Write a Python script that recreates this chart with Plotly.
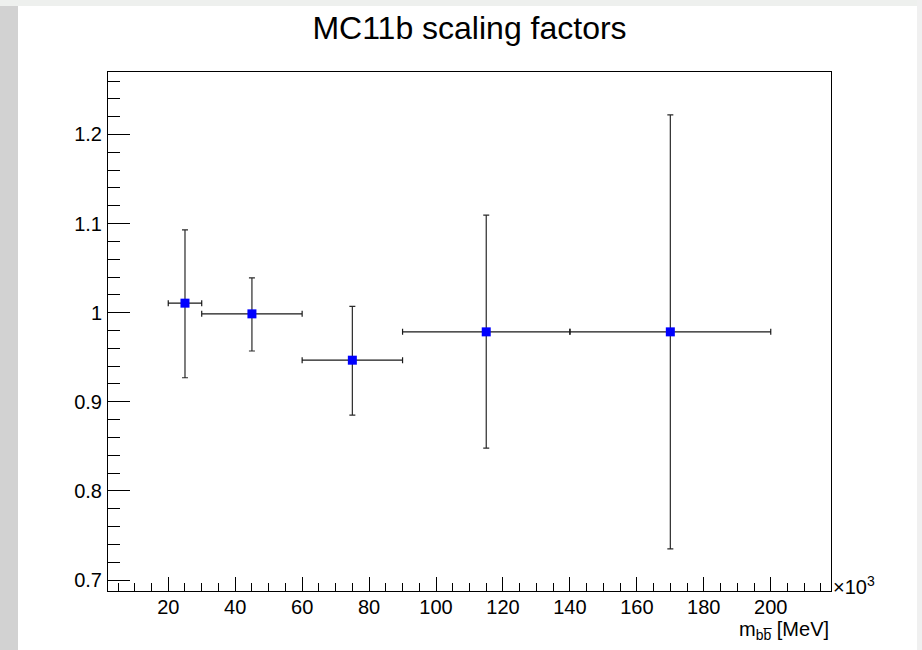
import plotly.graph_objects as go

# Data (x in units of 10^3 MeV)
bin_low = [20, 30, 60, 90, 140]
bin_high = [30, 60, 90, 140, 200]
x_center = [25, 45, 75, 115, 170]
scale = [1.0107, 0.9987, 0.9467, 0.9785, 0.9785]
scale_up = [1.093, 1.039, 1.007, 1.1095, 1.222]
scale_down = [0.927, 0.957, 0.885, 0.848, 0.735]

ex_minus = [c - lo for c, lo in zip(x_center, bin_low)]
ex_plus = [hi - c for c, hi in zip(x_center, bin_high)]
ey_plus = [u - v for u, v in zip(scale_up, scale)]
ey_minus = [v - d for v, d in zip(scale, scale_down)]

FONT = "Liberation Sans, Arial, Helvetica, sans-serif"

fig = go.Figure()
fig.add_trace(go.Scatter(
    x=x_center, y=scale, mode="markers",
    marker=dict(symbol="square", size=9, color="#0000ff", line=dict(width=0)),
    error_x=dict(type="data", symmetric=False, array=ex_plus, arrayminus=ex_minus,
                 color="#1a1a1a", thickness=1.2, width=3),
    error_y=dict(type="data", symmetric=False, array=ey_plus, arrayminus=ey_minus,
                 color="#2a2a2a", thickness=1.2, width=3),
    showlegend=False,
))

W, H = 922, 650
ML, MR, MT, MB = 108, 91, 72, 59
PW, PH = W - ML - MR, H - MT - MB

def px_x(p):
    return (p - ML) / PW

def px_y(p):
    return 1 - (p - MT) / PH

shapes = [
    dict(type="rect", xref="paper", yref="paper", x0=px_x(0), x1=px_x(18), y0=px_y(650), y1=px_y(0),
         fillcolor="#d2d2d2", line=dict(width=0), layer="below"),
    dict(type="rect", xref="paper", yref="paper", x0=px_x(0), x1=px_x(922), y0=px_y(6), y1=px_y(0),
         fillcolor="#eef0ee", line=dict(width=0), layer="below"),
    dict(type="rect", xref="paper", yref="paper", x0=px_x(917), x1=px_x(922), y0=px_y(650), y1=px_y(0),
         fillcolor="#f0f0f0", line=dict(width=0), layer="below"),
]

fig.update_layout(
    width=W, height=H, autosize=False,
    margin=dict(l=ML, r=MR, t=MT, b=MB, pad=0),
    paper_bgcolor="white", plot_bgcolor="white",
    font=dict(family=FONT, color="black", size=20),
    title=dict(text="MC11b scaling factors", x=0.5, xref="paper", xanchor="center",
               y=1 - 28 / H, yref="container", yanchor="middle",
               font=dict(family=FONT, size=32, color="black")),
    shapes=shapes,
    xaxis=dict(range=[2, 218], showline=True, linecolor="black", linewidth=1, mirror=True,
               ticks="inside", ticklen=14, tickwidth=1, tickcolor="black",
               tick0=0, dtick=20, showgrid=False, zeroline=False,
               tickfont=dict(family=FONT, size=20, color="black"),
               ticklabelstandoff=-2,
               minor=dict(ticks="inside", ticklen=8, tickwidth=1, tickcolor="black",
                          tick0=0, dtick=5, showgrid=False)),
    yaxis=dict(range=[0.6877, 1.2701], showline=True, linecolor="black", linewidth=1, mirror=True,
               ticks="inside", ticklen=22, tickwidth=1, tickcolor="black",
               tick0=0.7, dtick=0.1, showgrid=False, zeroline=False,
               tickfont=dict(family=FONT, size=20, color="black"),
               ticklabelstandoff=1,
               minor=dict(ticks="inside", ticklen=12, tickwidth=1, tickcolor="black",
                          tick0=0.7, dtick=0.02, showgrid=False)),
    annotations=[
        dict(text="\u00d710<sup>3</sup>", xref="paper", yref="paper", x=1, y=0,
             xanchor="left", yanchor="middle", xshift=0, yshift=6, showarrow=False,
             font=dict(family=FONT, size=20, color="black")),
        dict(text="m<sub>b\u0062\u0305</sub> [MeV]", xref="paper", yref="paper", x=1, y=0,
             xanchor="right", yanchor="middle", xshift=0, yshift=-39, showarrow=False,
             font=dict(family=FONT, size=20, color="black")),
    ],
)

fig.write_html("out.html")
